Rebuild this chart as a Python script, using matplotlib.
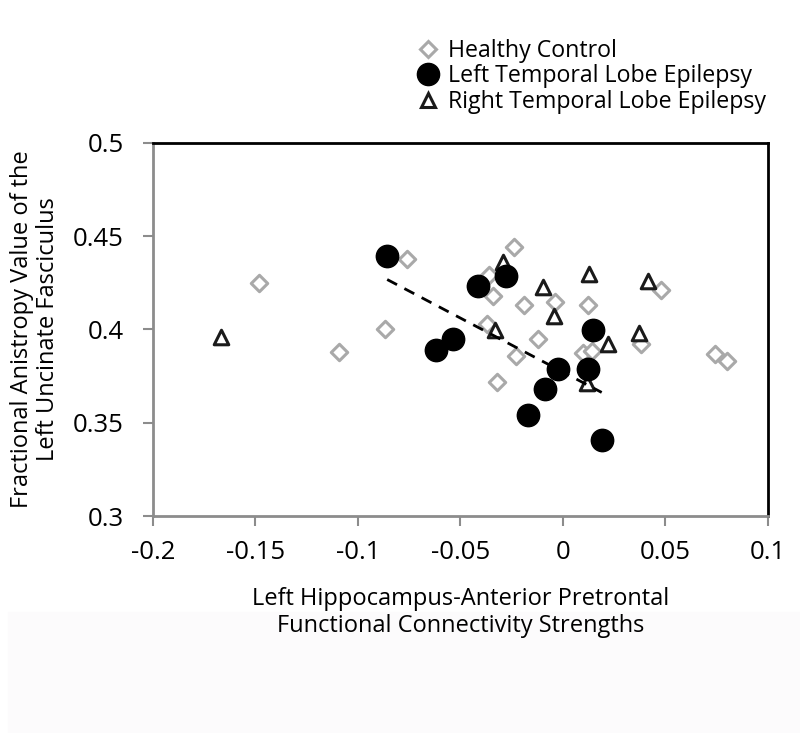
import numpy as np
import matplotlib
matplotlib.use("Agg")
import matplotlib.pyplot as plt
from matplotlib.lines import Line2D
from matplotlib.patches import Rectangle

plt.rcParams['font.family'] = ['Open Sans', 'DejaVu Sans']

# healthy controls
hc_x = [-0.148, -0.109, -0.087, -0.076, -0.024, -0.036, -0.034, -0.019, -0.004,
        0.012, -0.037, -0.012, -0.023, -0.032, 0.010, 0.014, 0.038, 0.048,
        0.074, 0.080]
hc_y = [0.425, 0.388, 0.400, 0.438, 0.444, 0.429, 0.418, 0.413, 0.415,
        0.413, 0.403, 0.395, 0.386, 0.372, 0.3875, 0.3885, 0.392, 0.421,
        0.387, 0.383]

# left temporal lobe epilepsy
ltle_x = [-0.0857, -0.0621, -0.0535, -0.0413, -0.0278, 0.0148, -0.0023,
          0.0124, -0.0088, -0.0172, 0.0189]
ltle_y = [0.4395, 0.389, 0.3949, 0.4233, 0.4287, 0.3997, 0.3786,
          0.3786, 0.3679, 0.3541, 0.341]

# right temporal lobe epilepsy
rtle_x = [-0.1665, -0.0291, 0.0127, -0.0099, 0.0413, -0.0044, -0.0332,
          0.0221, 0.0371, 0.0116]
rtle_y = [0.3958, 0.4363, 0.4297, 0.4226, 0.4261, 0.4072, 0.3997,
          0.3922, 0.3979, 0.3714]

fig = plt.figure(figsize=(8, 7.33), dpi=100)
fig.patches.append(Rectangle((0.01, 0), 0.99, 0.165, transform=fig.transFigure,
                             color='#fcfbfc', zorder=-10))
ax = fig.add_axes([0.191, 0.296, 0.769, 0.509])

grey = '#a9a9a9'
ax.scatter(hc_x, hc_y, marker='D', s=70, facecolor='white', edgecolor=grey,
           linewidth=2.2, zorder=3)
ax.scatter(rtle_x, rtle_y, marker='^', s=110, facecolor='white', edgecolor='#1a1a1a',
           linewidth=2.2, zorder=4)
ax.scatter(ltle_x, ltle_y, marker='o', s=260, facecolor='black', edgecolor='black',
           zorder=5)

# linear trend for LTLE
k, b = np.polyfit(ltle_x, ltle_y, 1)
xx = np.array([min(ltle_x), max(ltle_x)])
ax.plot(xx, k * xx + b, color='black', linestyle=(0, (4, 3)), linewidth=2, zorder=6)

ax.set_xlim(-0.2, 0.1)
ax.set_ylim(0.3, 0.5)
ax.set_xticks([-0.2, -0.15, -0.1, -0.05, 0, 0.05, 0.1])
ax.set_xticklabels(['-0.2', '-0.15', '-0.1', '-0.05', '0', '0.05', '0.1'])
ax.set_yticks([0.3, 0.35, 0.4, 0.45, 0.5])
ax.set_yticklabels(['0.3', '0.35', '0.4', '0.45', '0.5'])
ax.tick_params(axis='both', direction='out', length=7, width=1.5, color='#8c8c8c',
               labelsize=18.5)
ax.tick_params(axis='x', pad=10)
ax.tick_params(axis='y', pad=14)

for s in ['left', 'bottom']:
    ax.spines[s].set_color('#8c8c8c')
    ax.spines[s].set_linewidth(2)
for s in ['top', 'right']:
    ax.spines[s].set_color('black')
    ax.spines[s].set_linewidth(2)

ax.set_xlabel('Left Hippocampus-Anterior Pretrontal\nFunctional Connectivity Strengths',
              fontsize=17, labelpad=16, linespacing=1.2)
ax.set_ylabel('Fractional Anistropy Value of the\nLeft Uncinate Fasciculus',
              fontsize=17, labelpad=9, linespacing=1.15)

handles = [
    Line2D([], [], marker='D', linestyle='none', markersize=8, markerfacecolor='white',
           markeredgecolor=grey, markeredgewidth=2.2),
    Line2D([], [], marker='o', linestyle='none', markersize=16, markerfacecolor='black',
           markeredgecolor='black'),
    Line2D([], [], marker='^', linestyle='none', markersize=10, markerfacecolor='white',
           markeredgecolor='#1a1a1a', markeredgewidth=2.2),
]
fig.legend(handles, ['Healthy Control', 'Left Temporal Lobe Epilepsy',
                     'Right Temporal Lobe Epilepsy'],
           loc='upper left', bbox_to_anchor=(0.504, 0.966), frameon=False,
           fontsize=16.7, handlelength=0.9, handletextpad=0.45, labelspacing=0.07,
           borderpad=0.1)

fig.savefig('out.png', dpi=100)
